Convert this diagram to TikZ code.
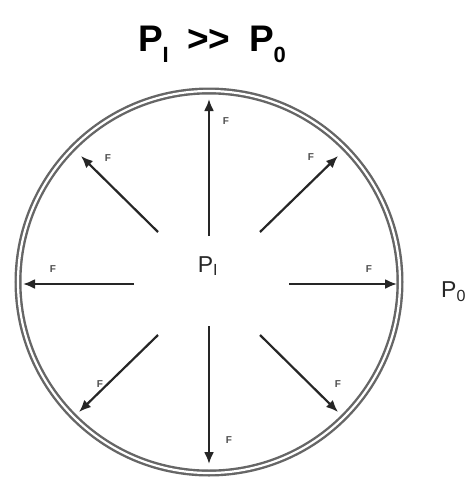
\documentclass[tikz,border=0pt]{standalone}
\usepackage{fontspec}
\setsansfont{Liberation Sans}
\usetikzlibrary{arrows.meta}
\tikzset{
  wall/.style = {draw=black!60, line width=2.4pt, double=white,
    double distance=2.2pt},% paroi du ballon
  force/.style = {-{Latex[length=12pt,width=10pt]}, line width=2.2pt,
    black!85},% force de pression
  flabel/.style = {font=\sffamily\bfseries\fontsize{10}{10}\selectfont,
    inner sep=0pt, black!70},% etiquette F
  plabel/.style = {font=\sffamily\fontsize{23}{23}\selectfont,
    inner sep=0pt, black!85},% etiquette P
  title/.style = {font=\sffamily\bfseries\fontsize{37}{37}\selectfont,
    inner sep=0pt}
}
\newcommand{\bas}[1]{\raisebox{-0.3em}{\fontsize{22}{22}\selectfont #1}}

\begin{document}
\begin{tikzpicture}[x=1pt, y=-1pt]
      \useasboundingbox (0,0) rectangle (465,479);
      \coordinate (c) at (209,282);
      \draw [wall] (c) circle (191);
      \node [title] (titre) at (212,44) {P\bas{I}\hspace{0.5em}>{}>\hspace{0.5em}P\bas{0}};
      \node [plabel] (pin) at (208,266) {P\textsubscript{I}};
      \node [plabel, anchor=west] (pout) at (441,292) {P\textsubscript{0}};
      % queues et pointes des fleches
      \coordinate (n0) at (209,236);  \coordinate (n1) at (209,99);
      \coordinate (s0) at (209,326);  \coordinate (s1) at (209,464);
      \coordinate (w0) at (134,284);  \coordinate (w1) at (23,284);
      \coordinate (e0) at (289,284);  \coordinate (e1) at (397,284);
      \coordinate (nw0) at (158,232); \coordinate (nw1) at (81,156);
      \coordinate (ne0) at (260,232); \coordinate (ne1) at (338,156);
      \coordinate (sw0) at (158,335); \coordinate (sw1) at (79,412);
      \coordinate (se0) at (260,335); \coordinate (se1) at (338,412);
      \draw [force] (n0) -- (n1);
      \draw [force] (s0) -- (s1);
      \draw [force] (w0) -- (w1);
      \draw [force] (e0) -- (e1);
      \draw [force] (nw0) -- (nw1);
      \draw [force] (ne0) -- (ne1);
      \draw [force] (sw0) -- (sw1);
      \draw [force] (se0) -- (se1);
      \node [flabel] (fn) at (226,121) {F};
      \node [flabel] (fs) at (229,440) {F};
      \node [flabel] (fw) at (53,269) {F};
      \node [flabel] (fe) at (369,269) {F};
      \node [flabel] (fnw) at (108,158) {F};
      \node [flabel] (fne) at (311,157) {F};
      \node [flabel] (fsw) at (100,384) {F};
      \node [flabel] (fse) at (338,384) {F};
\end{tikzpicture}
\end{document}
